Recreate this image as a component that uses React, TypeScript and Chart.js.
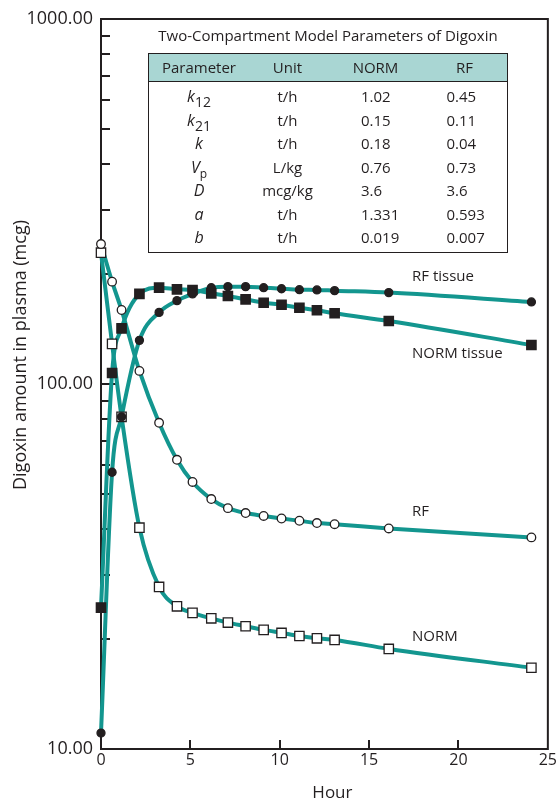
import React, { useEffect, useRef } from 'react';
import { Chart, registerables } from 'chart.js';

Chart.register(...registerables);

// ---- data ----
const hours = [0, 0.62, 1.15, 2.15, 3.25, 4.25, 5.12, 6.17, 7.1, 8.09, 9.1, 10.1, 11.1, 12.08, 13.07, 16.1, 24.08];
const normPlasma = [229, 128.8, 81.3, 40.4, 27.8, 24.6, 23.6, 22.8, 22.2, 21.7, 21.2, 20.8, 20.4, 20.1, 19.9, 18.8, 16.7];
const rfPlasma = [241.8, 190.7, 159.5, 108.6, 78.3, 62.0, 53.9, 48.4, 45.7, 44.3, 43.5, 42.8, 42.2, 41.6, 41.3, 40.2, 38.0];
const normTissue = [24.4, 107.2, 142, 176.5, 183.6, 181.7, 180.9, 177.2, 174.2, 170.6, 167.0, 164.9, 161.8, 159.2, 156.2, 148.8, 127.9];
const rfTissue = [11.06, 57.3, 81.3, 131.7, 157.1, 169.2, 176.5, 183.5, 184.8, 184.8, 183.6, 182.4, 181.3, 181.0, 180.2, 178.0, 167.8];

const xTickValues = [0, 5, 10, 15, 20, 25];
const xInnerTicks = [5, 10, 15, 20];
const yTickValues = [10, 100, 1000];
const yMinorDecades = [10, 100];

const curveLabels = [
  { text: 'RF tissue', x: 17.4, y: 197 },
  { text: 'NORM tissue', x: 17.4, y: 121 },
  { text: 'RF', x: 17.4, y: 44.7 },
  { text: 'NORM', x: 17.4, y: 20.3 },
];

const xTitle = 'Hour';
const yTitle = 'Digoxin amount in plasma (mcg)';

// table
const tableTitle = 'Two-Compartment Model Parameters of Digoxin';
const tableHeaders = ['Parameter', 'Unit', 'NORM', 'RF'];
const paramSymbols = [['k', '12'], ['k', '21'], ['k', ''], ['V', 'p'], ['D', ''], ['a', ''], ['b', '']];
const paramUnits = ['t/h', 't/h', 't/h', 'L/kg', 'mcg/kg', 't/h', 't/h'];
const normValues = ['1.02', '0.15', '0.18', '0.76', '3.6', '1.331', '0.019'];
const rfValues = ['0.45', '0.11', '0.04', '0.73', '3.6', '0.593', '0.007'];

// ---- styles ----
const TEAL = '#13968f';
const INK = '#231f20';
const FONT = "'Open Sans', sans-serif";

const series = [
  { values: rfTissue, style: 'circle', radius: 4, fill: INK },
  { values: normTissue, style: 'rect', radius: 6.6, fill: INK },
  { values: rfPlasma, style: 'circle', radius: 4.3, fill: '#ffffff' },
  { values: normPlasma, style: 'rect', radius: 6.6, fill: '#ffffff' },
];

const toPoints = (vals: number[]) => hours.map((h, i) => ({ x: h, y: vals[i] }));

const framePlugin = {
  id: 'frameTicks',
  beforeDatasetsDraw(chart: any) {
    const { ctx, chartArea: a, scales } = chart;
    const x = scales.x;
    const y = scales.y;
    ctx.save();
    ctx.strokeStyle = INK;
    ctx.lineWidth = 2;
    ctx.beginPath();
    ctx.moveTo(a.left - 1, a.top);
    ctx.lineTo(a.right, a.top);
    ctx.moveTo(a.right, a.top - 1);
    ctx.lineTo(a.right, a.bottom + 1);
    // y minor ticks
    for (const d of yMinorDecades) {
      for (let k = 2; k <= 9; k++) {
        const py = Math.round(y.getPixelForValue(d * k));
        ctx.moveTo(a.left, py);
        ctx.lineTo(a.left + 9, py);
      }
    }
    // y major inner tick
    const p100 = Math.round(y.getPixelForValue(100));
    ctx.moveTo(a.left, p100);
    ctx.lineTo(a.left + 18, p100);
    // x inner ticks
    for (const v of xInnerTicks) {
      const px = Math.round(x.getPixelForValue(v));
      ctx.moveTo(px, a.bottom);
      ctx.lineTo(px, a.bottom - 9);
    }
    ctx.stroke();
    ctx.restore();
  },
  afterDraw(chart: any) {
    const { ctx, chartArea: a, scales } = chart;
    const x = scales.x;
    const y = scales.y;
    ctx.save();
    ctx.fillStyle = INK;
    ctx.font = `15px ${FONT}`;
    ctx.textAlign = 'left';
    ctx.textBaseline = 'middle';
    for (const l of curveLabels) {
      ctx.fillText(l.text, x.getPixelForValue(l.x), y.getPixelForValue(l.y));
    }
    ctx.font = `17px ${FONT}`;
    ctx.textAlign = 'center';
    ctx.fillText(xTitle, (a.left + a.right) / 2 + 8, 793);
    ctx.translate(21, 355);
    ctx.rotate(-Math.PI / 2);
    ctx.font = `18px ${FONT}`;
    ctx.fillText(yTitle, 0, 0);
    ctx.restore();
  },
};

function makeConfig(): any {
  return {
    type: 'line',
    data: {
      datasets: [
        ...series.map((s) => ({
          data: toPoints(s.values),
          showLine: false,
          pointStyle: s.style,
          pointRadius: s.radius,
          pointBackgroundColor: s.fill,
          pointBorderColor: INK,
          pointBorderWidth: 1.3,
          order: 0,
          clip: false,
        })),
        ...series.map((s) => ({
          data: toPoints(s.values),
          borderColor: TEAL,
          borderWidth: 4,
          pointRadius: 0,
          cubicInterpolationMode: 'monotone',
          fill: false,
          order: 1,
          clip: false,
        })),
      ],
    },
    options: {
      responsive: false,
      animation: false,
      events: [],
      layout: { padding: { top: 19, right: 10, left: 0, bottom: 0 } },
      plugins: { legend: { display: false }, tooltip: { enabled: false } },
      scales: {
        x: {
          type: 'linear',
          min: 0,
          max: 25,
          afterBuildTicks: (s: any) => {
            s.ticks = xTickValues.map((v) => ({ value: v }));
          },
          afterFit: (s: any) => {
            s.height = 53;
          },
          ticks: { font: { size: 16, family: FONT }, color: INK, padding: 2, maxRotation: 0, autoSkip: false },
          grid: { display: false, drawTicks: false },
          border: { display: true, color: INK, width: 2 },
        },
        y: {
          type: 'logarithmic',
          min: 10,
          max: 1000,
          afterBuildTicks: (s: any) => {
            s.ticks = yTickValues.map((v) => ({ value: v }));
          },
          afterFit: (s: any) => {
            s.width = 101;
          },
          ticks: {
            font: { size: 18, family: FONT },
            color: INK,
            padding: 8,
            callback: (v: any) => Number(v).toFixed(2),
          },
          grid: { display: false, drawTicks: false },
          border: { display: true, color: INK, width: 2 },
        },
      },
    },
    plugins: [framePlugin],
  };
}

const centerCell = (center: number): React.CSSProperties => ({
  position: 'absolute',
  left: center - 60,
  width: 120,
  textAlign: 'center',
  top: 0,
});
const leftCell = (left: number): React.CSSProperties => ({ position: 'absolute', left, top: 0 });

// column positions inside the table box (relative to its inner left edge)
const COL_PARAM = 50;
const COL_UNIT = 138.5;
const COL_NORM_H = 226.5;
const COL_RF_H = 315.5;
const COL_NORM_V = 212;
const COL_RF_V = 297.5;

export default function App() {
  const ref = useRef<HTMLCanvasElement>(null);
  useEffect(() => {
    let chart: Chart | null = null;
    let cancelled = false;
    const make = () => {
      if (cancelled || !ref.current) return;
      Chart.defaults.font.family = FONT;
      chart = new Chart(ref.current, makeConfig());
    };
    if ((document as any).fonts && (document as any).fonts.load) {
      (document as any).fonts.load(`16px ${FONT}`).then(make, make);
    } else {
      make();
    }
    return () => {
      cancelled = true;
      if (chart) chart.destroy();
    };
  }, []);

  return (
    <div style={{ position: 'absolute', left: 0, top: 0, width: 559, height: 802, fontFamily: FONT, color: INK, background: '#fff' }}>
      <canvas ref={ref} width={559} height={802} style={{ display: 'block', width: 559, height: 802 }} />
      <div
        style={{
          position: 'absolute',
          left: 148,
          top: 26,
          width: 360,
          textAlign: 'center',
          fontSize: 15,
          lineHeight: '18px',
          whiteSpace: 'nowrap',
        }}
      >
        {tableTitle}
      </div>
      <div
        style={{
          position: 'absolute',
          left: 148,
          top: 53,
          width: 360,
          height: 200,
          boxSizing: 'border-box',
          border: `1.5px solid ${INK}`,
          background: '#fff',
          fontSize: 15,
        }}
      >
        <div
          style={{
            position: 'relative',
            height: 27,
            lineHeight: '27px',
            background: '#a9d6d3',
            borderBottom: `1.5px solid ${INK}`,
          }}
        >
          <div style={centerCell(COL_PARAM)}>{tableHeaders[0]}</div>
          <div style={centerCell(COL_UNIT)}>{tableHeaders[1]}</div>
          <div style={centerCell(COL_NORM_H)}>{tableHeaders[2]}</div>
          <div style={centerCell(COL_RF_H)}>{tableHeaders[3]}</div>
        </div>
        <div style={{ position: 'relative', paddingTop: 3 }}>
          {paramSymbols.map((p, i) => (
            <div key={i} style={{ position: 'relative', height: 23.5, lineHeight: '23.5px' }}>
              <div style={centerCell(COL_PARAM)}>
                <span style={{ fontStyle: 'italic', fontSize: 16 }}>{p[0]}</span>
                {p[1] ? (
                  <span style={{ fontSize: p[1] === 'p' ? 12 : 14, position: 'relative', top: 5 }}>{p[1]}</span>
                ) : null}
              </div>
              <div style={centerCell(COL_UNIT)}>{paramUnits[i]}</div>
              <div style={leftCell(COL_NORM_V)}>{normValues[i]}</div>
              <div style={leftCell(COL_RF_V)}>{rfValues[i]}</div>
            </div>
          ))}
        </div>
      </div>
    </div>
  );
}
